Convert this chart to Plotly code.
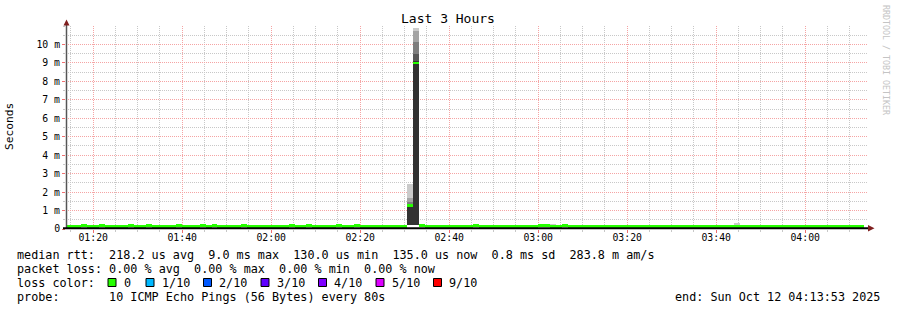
import plotly.graph_objects as go
import pandas as pd

# ---------------- data ----------------
TITLE = "Last 3 Hours"
END_LABEL = "end: Sun Oct 12 04:13:53 2025"
RANGE_START = "2025-10-12 01:13:53"
RANGE_END = "2025-10-12 04:13:53"
FIRST_STEP = "2025-10-12 01:13:15"
STEP_SECONDS = 80

# median round trip time per 80 s step (milliseconds)
median_ms = [
    0.135, 0.135, 0.135, 0.19, 0.135, 0.135, 0.19, 0.135, 0.135, 0.135, 0.135, 0.19, 0.135, 0.135, 0.19,
    0.135, 0.135, 0.135, 0.135, 0.19, 0.135, 0.135, 0.135, 0.19, 0.135, 0.19, 0.135, 0.135, 0.135, 0.135,
    0.19, 0.135, 0.135, 0.135, 0.135, 0.135, 0.135, 0.135, 0.19, 0.135, 0.135, 0.19, 0.135, 0.135, 0.135,
    0.135, 0.19, 0.135, 0.135, 0.19, 0.135, 0.135, 0.135, 0.135, 0.135, 0.135, 0.135, 0.135, 1.27, 9.0,
    0.19, 0.135, 0.135, 0.135, 0.135, 0.135, 0.135, 0.135, 0.135, 0.19, 0.135, 0.135, 0.135, 0.135, 0.135,
    0.135, 0.135, 0.135, 0.135, 0.135, 0.19, 0.19, 0.135, 0.135, 0.19, 0.135, 0.135, 0.135, 0.135, 0.135,
    0.135, 0.135, 0.135, 0.135, 0.135, 0.135, 0.135, 0.135, 0.135, 0.135, 0.135, 0.135, 0.135, 0.135, 0.135,
    0.135, 0.135, 0.135, 0.135, 0.135, 0.135, 0.135, 0.135, 0.135, 0.135, 0.135, 0.135, 0.135, 0.135, 0.135,
    0.135, 0.135, 0.135, 0.135, 0.135, 0.135, 0.135, 0.135, 0.135, 0.135, 0.135, 0.135, 0.135, 0.135, 0.135,
]

# steps with visible smoke and their 10 sorted ping times (ms)
smoke_step_index = [58, 59, 82, 113]
smoke_pings_ms = [
    [0.2, 0.2, 0.2, 0.2, 0.2, 1.30, 1.35, 1.45, 1.70, 2.43],
    [0.2, 0.2, 0.2, 0.2, 0.2, 9.08, 9.50, 10.13, 10.73, 10.90],
    [0.12, 0.12, 0.13, 0.13, 0.13, 0.14, 0.14, 0.15, 0.16, 0.26],
    [0.12, 0.12, 0.13, 0.13, 0.13, 0.14, 0.14, 0.15, 0.17, 0.30],
]

y_tick_values = [0, 1, 2, 3, 4, 5, 6, 7, 8, 9, 10]
y_tick_labels = ["0", "1 m", "2 m", "3 m", "4 m", "5 m", "6 m", "7 m", "8 m", "9 m", "10 m"]

rtt_stats = ["218.2 us avg", "9.0 ms max", "130.0 us min", "135.0 us now", "0.8 ms sd", "283.8 m am/s"]
loss_stats = ["0.00 % avg", "0.00 % max", "0.00 % min", "0.00 % now"]
loss_labels = ["0", "1/10", "2/10", "3/10", "4/10", "5/10", "9/10"]
loss_colors = ["#26ff00", "#00b8ff", "#0059ff", "#5e00ff", "#7e00ff", "#dd00ff", "#ff0000"]
probe_text = "10 ICMP Echo Pings (56 Bytes) every 80s"

# ---------------- layout constants ----------------
W, H = 897, 310
PLOT_L, PLOT_R, PLOT_T, PLOT_B = 66, 867, 26, 229
MONO = "DejaVu Sans Mono"
TXT = 11.78
TICK = 9.8
MEDIAN_BAND_MS = 0.14
MAJ_GRID = "#f5a4a4"
MIN_GRID = "#c8c8c8"
DOTS = "1px,1px"


def px(x):
    return (x - PLOT_L) / (PLOT_R - PLOT_L)


def py(y):
    return (PLOT_B - y) / (PLOT_B - PLOT_T)


def nb(s):
    return s.replace(" ", "\u00a0")


step_start = pd.date_range(start=FIRST_STEP, periods=len(median_ms), freq=f"{STEP_SECONDS}s")
step_center = step_start + pd.Timedelta(seconds=STEP_SECONDS / 2)
bar_w = STEP_SECONDS * 1000

fig = go.Figure()

# smoke layers (outer = lightest, inner = darkest)
half = 5
for ii in range(1, half + 1):
    shade = int(190 / half * (half - ii)) + 50
    col = f"rgb({shade},{shade},{shade})"
    xs, bases, hs = [], [], []
    for idx, p in zip(smoke_step_index, smoke_pings_ms):
        xs.append(step_center[idx])
        bases.append(p[ii - 1])
        hs.append(p[10 - ii] - p[ii - 1])
    fig.add_trace(go.Bar(x=xs, y=hs, base=bases, width=bar_w,
                         marker=dict(color=col, line=dict(width=0)),
                         showlegend=False, hoverinfo="skip"))

# median band
fig.add_trace(go.Bar(x=step_center, y=[MEDIAN_BAND_MS] * len(median_ms),
                     base=[m - MEDIAN_BAND_MS / 2 for m in median_ms], width=bar_w,
                     marker=dict(color=loss_colors[0], line=dict(width=0)),
                     showlegend=False, hoverinfo="skip"))

fig.update_layout(
    width=W, height=H,
    margin=dict(l=PLOT_L, r=W - PLOT_R, t=PLOT_T, b=H - PLOT_B, pad=0),
    paper_bgcolor="white", plot_bgcolor="white",
    barmode="overlay", bargap=0,
    showlegend=False,
    font=dict(family=MONO, size=TXT, color="black"),
    xaxis=dict(
        type="date", range=[RANGE_START, RANGE_END],
        tick0="2025-10-12 01:20:00", dtick=1200000, tickformat="%H:%M",
        showgrid=True, gridcolor=MAJ_GRID, griddash=DOTS, gridwidth=1,
        minor=dict(dtick=300000, tick0="2025-10-12 01:20:00", showgrid=True,
                   gridcolor=MIN_GRID, griddash=DOTS, gridwidth=1,
                   ticks="outside", ticklen=2, tickcolor=MIN_GRID),
        ticks="outside", ticklen=3, tickcolor="#f07070", ticklabelstandoff=-4,
        tickfont=dict(family=MONO, size=TICK, color="black"),
        showline=False, zeroline=False, fixedrange=True,
    ),
    yaxis=dict(
        range=[0, 11.0], tickmode="array", tickvals=y_tick_values, ticktext=y_tick_labels,
        showgrid=True, gridcolor=MAJ_GRID, griddash=DOTS, gridwidth=1,
        minor=dict(dtick=0.5, tick0=0, showgrid=True, gridcolor=MIN_GRID, griddash=DOTS, gridwidth=1,
                   ticks="outside", ticklen=2, tickcolor=MIN_GRID),
        ticks="outside", ticklen=3, tickcolor="#f07070",
        tickfont=dict(family=MONO, size=TICK, color="black"),
        showline=False, zeroline=False, fixedrange=True,
    ),
)

shapes = []
# y axis line with arrow
shapes.append(dict(type="line", xref="paper", yref="paper", x0=px(66.5), x1=px(66.5),
                   y0=py(229), y1=py(24), line=dict(color="#555555", width=1.5), layer="above"))
shapes.append(dict(type="path", xref="paper", yref="paper", layer="above",
                   path=f"M {px(63.5)} {py(25.5)} L {px(69.5)} {py(25.5)} L {px(66.5)} {py(19.5)} Z",
                   fillcolor="#7f1f1f", line=dict(width=0)))
# x axis line with arrow
shapes.append(dict(type="line", xref="paper", yref="paper", x0=px(63), x1=px(869),
                   y0=py(228.3), y1=py(228.3), line=dict(color="black", width=2), layer="above"))
shapes.append(dict(type="path", xref="paper", yref="paper", layer="above",
                   path=f"M {px(868)} {py(225)} L {px(868)} {py(231.6)} L {px(874.5)} {py(228.3)} Z",
                   fillcolor="#7f1f1f", line=dict(width=0)))

annotations = []


def text(x, y, s, size=TXT, anchor="left", angle=0, color="black", family=MONO):
    annotations.append(dict(xref="paper", yref="paper", x=px(x), y=py(y), text=nb(s),
                            showarrow=False, xanchor=anchor, yanchor="middle", textangle=angle,
                            font=dict(family=family, size=size, color=color)))


text(448, 19, TITLE, size=13, anchor="center")
text(10, 127, "Seconds", size=11.2, anchor="center", angle=-90)
text(886, 60, "RRDTOOL / TOBI OETIKER", size=8.3, anchor="center", angle=90, color="#c4c4c4")

LEFT = 14.5
text(LEFT, 254.5, "median rtt:  " + "  ".join(rtt_stats))
text(LEFT, 268.5, "packet loss: " + "  ".join(loss_stats))
text(LEFT, 282.5, "loss color:")
text(LEFT, 296.5, "probe:       " + probe_text)
text(882, 296.5, END_LABEL, anchor="right")

swatch_x = [108, 146, 203.5, 261, 318.5, 376, 433.5]
for sx, lab, col in zip(swatch_x, loss_labels, loss_colors):
    shapes.append(dict(type="rect", xref="paper", yref="paper",
                       x0=px(sx), x1=px(sx + 8), y0=py(278.5), y1=py(286.5),
                       fillcolor=col, line=dict(color="black", width=1)))
    text(sx + 13.5, 282.5, lab)

fig.update_layout(shapes=shapes, annotations=annotations)

fig.write_html("out.html")
